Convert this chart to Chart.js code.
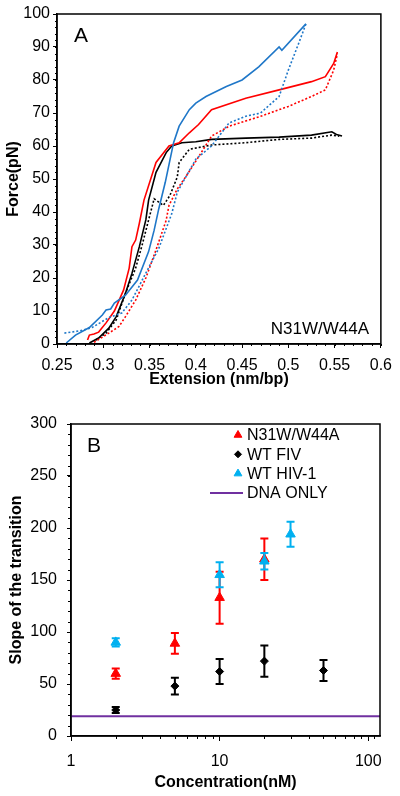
<!DOCTYPE html>
<html>
<head>
<meta charset="utf-8">
<script src="https://cdn.jsdelivr.net/npm/chart.js@4.4.1/dist/chart.umd.min.js"></script>
<style>
  html, body { margin: 0; padding: 0; background: #fff; }
  .panel { position: absolute; left: 0; width: 400px; }
  #panelA { top: 0; height: 400px; }
  #panelB { top: 400px; height: 396px; }
</style>
</head>
<body>
<div class="panel" id="panelA"><canvas id="forceChart" width="400" height="400"></canvas></div>
<div class="panel" id="panelB"><canvas id="slopeChart" width="400" height="396"></canvas></div>
<script>
// Panel A: force-extension curves, [extension nm/bp, force pN]
const blueStretch = [[0.260,0.3],[0.270,2.7],[0.285,5],[0.299,8.8],[0.303,10.3],[0.308,10.6],[0.312,12.4],[0.324,14.8],[0.337,19.4],[0.349,28],[0.355,34.5],[0.360,41],[0.367,49],[0.373,57],[0.376,61],[0.382,66],[0.393,71],[0.400,73],[0.411,75],[0.433,78],[0.450,80],[0.468,84],[0.490,90],[0.493,89],[0.519,97]];
const blueRelease = [[0.258,3.3],[0.275,4],[0.288,5],[0.306,8],[0.320,9.4],[0.331,13.3],[0.346,21.5],[0.360,29],[0.374,39.5],[0.380,46],[0.400,56],[0.417,60],[0.436,67],[0.454,69],[0.470,70],[0.490,75],[0.500,83],[0.511,91],[0.519,97]];
const redStretch = [[0.283,1.2],[0.285,2.7],[0.290,3],[0.295,3.6],[0.303,6.4],[0.312,10],[0.322,16.4],[0.328,23],[0.331,29.5],[0.335,31.5],[0.339,36.6],[0.344,43.6],[0.357,55],[0.371,60],[0.382,61],[0.393,64],[0.403,66.5],[0.417,71],[0.454,74.5],[0.490,77],[0.525,79.5],[0.540,81],[0.549,85],[0.553,88.5]];
const redRelease = [[0.290,0.5],[0.306,3.3],[0.317,5.3],[0.324,8.3],[0.335,13.3],[0.346,20],[0.357,28.5],[0.368,37.5],[0.371,42],[0.380,47],[0.389,50.6],[0.403,56.7],[0.417,63],[0.436,66],[0.470,69],[0.500,72],[0.525,75],[0.540,77],[0.549,83],[0.553,88]];
const blackStretch = [[0.285,0.3],[0.295,1.8],[0.306,4.8],[0.314,8.3],[0.324,15.4],[0.331,21.4],[0.339,29.5],[0.346,37.6],[0.349,43.6],[0.357,52],[0.368,58],[0.374,60],[0.385,61],[0.400,61.3],[0.417,62],[0.454,62.4],[0.490,62.7],[0.525,63.3],[0.547,64.3],[0.552,63.5],[0.558,63]];
const blackRelease = [[0.292,1.2],[0.303,3.3],[0.314,7.3],[0.324,15.4],[0.335,23],[0.342,30],[0.349,37.6],[0.355,44],[0.360,43],[0.365,42],[0.372,45],[0.380,50.6],[0.382,55],[0.393,59],[0.417,60.3],[0.454,61],[0.490,62],[0.525,62.4],[0.547,63.3],[0.555,63]];

// Panel B: slope of the transition vs concentration (nM)
const concN31W = [2, 5, 10, 20];
const slopeN31W = [60, 89, 133, 170];
const errN31W = [5, 10, 25, 20];
const concFIV = [2, 5, 10, 20, 50];
const slopeFIV = [25, 48, 62, 72, 63];
const errFIV = [3, 8, 12, 15, 10];
const concHIV = [2, 10, 20, 30];
const slopeHIV = [90, 155, 168, 194];
const errHIV = [4, 12, 8, 12];
const dnaOnlySlope = 19;

const FONT = "'Liberation Sans', Arial, sans-serif";
Chart.defaults.font.family = FONT;
Chart.defaults.font.size = 16;
Chart.defaults.color = '#000';

function toPoints(pairs) {
  return pairs.map(p => ({ x: p[0], y: p[1] }));
}

function zipPoints(xs, ys) {
  return xs.map((x, i) => ({ x: x, y: ys[i] }));
}

// short outside ticks between the labelled ones
const minorTicks = {
  id: 'minorTicks',
  afterDraw(chart, args, opts) {
    const ctx = chart.ctx, area = chart.chartArea;
    ctx.save();
    ctx.strokeStyle = '#000';
    ctx.lineWidth = 1;
    (opts.x || []).forEach(v => {
      const px = Math.round(chart.scales.x.getPixelForValue(v)) + 0.5;
      ctx.beginPath();
      ctx.moveTo(px, area.bottom);
      ctx.lineTo(px, area.bottom + opts.len);
      ctx.stroke();
    });
    (opts.y || []).forEach(v => {
      const py = Math.round(chart.scales.y.getPixelForValue(v)) + 0.5;
      ctx.beginPath();
      ctx.moveTo(area.left, py);
      ctx.lineTo(area.left - opts.len, py);
      ctx.stroke();
    });
    ctx.restore();
  }
};

const frameBox = {
  id: 'frameBox',
  afterDraw(chart) {
    const ctx = chart.ctx, a = chart.chartArea;
    ctx.save();
    ctx.strokeStyle = '#000';
    ctx.lineWidth = 1.5;
    ctx.strokeRect(a.left, a.top, a.right - a.left, a.bottom - a.top);
    ctx.restore();
  }
};

const panelText = {
  id: 'panelText',
  afterDraw(chart, args, opts) {
    const ctx = chart.ctx;
    ctx.save();
    (opts.items || []).forEach(t => {
      ctx.font = t.font;
      ctx.fillStyle = '#000';
      ctx.textAlign = t.align || 'left';
      ctx.textBaseline = 'alphabetic';
      ctx.fillText(t.text, t.x, t.y);
    });
    ctx.restore();
  }
};

const errorBars = {
  id: 'errorBars',
  beforeDatasetDraw(chart, args) {
    const ds = chart.data.datasets[args.index];
    if (!ds.errors) return;
    const ctx = chart.ctx, xs = chart.scales.x, ys = chart.scales.y;
    ctx.save();
    ctx.strokeStyle = ds.borderColor;
    ctx.lineWidth = 2;
    ds.data.forEach((p, i) => {
      const x = xs.getPixelForValue(p.x);
      const top = ys.getPixelForValue(p.y + ds.errors[i]);
      const bot = ys.getPixelForValue(p.y - ds.errors[i]);
      ctx.beginPath();
      ctx.moveTo(x, top); ctx.lineTo(x, bot);
      ctx.moveTo(x - 4, top); ctx.lineTo(x + 4, top);
      ctx.moveTo(x - 4, bot); ctx.lineTo(x + 4, bot);
      ctx.stroke();
    });
    ctx.restore();
  }
};

const insideLegend = {
  id: 'insideLegend',
  afterDraw(chart, args, opts) {
    const ctx = chart.ctx;
    ctx.save();
    ctx.font = '16px ' + FONT;
    ctx.textBaseline = 'middle';
    ctx.textAlign = 'left';
    chart.data.datasets.forEach((ds, i) => {
      const y = opts.top + i * opts.gap;
      ctx.fillStyle = ds.backgroundColor;
      ctx.strokeStyle = ds.borderColor;
      if (ds.showLine) {
        ctx.lineWidth = 2;
        ctx.beginPath();
        ctx.moveTo(opts.textX - 37, y);
        ctx.lineTo(opts.textX - 4, y);
        ctx.stroke();
      } else {
        Chart.helpers.drawPoint(ctx, {
          pointStyle: ds.pointStyle, radius: ds.pointStyle === 'triangle' ? 4.5 : 3.5,
          rotation: 0, borderWidth: 1
        }, opts.textX - 9, y);
      }
      ctx.fillStyle = '#000';
      ctx.fillText(ds.label, opts.textX, y + 1);
    });
    ctx.restore();
  }
};

function range(from, to, step) {
  const out = [];
  for (let v = from; v <= to + 1e-9; v += step) out.push(parseFloat(v.toFixed(4)));
  return out;
}

const axisBorder = { display: true, color: '#000', width: 1.5 };

new Chart(document.getElementById('forceChart'), {
  type: 'line',
  data: {
    datasets: [
      { label: 'blue stretch', data: toPoints(blueStretch), borderColor: '#1f77c8', borderWidth: 1.6 },
      { label: 'blue release', data: toPoints(blueRelease), borderColor: '#1f77c8', borderWidth: 1.6, borderDash: [2, 2] },
      { label: 'red stretch', data: toPoints(redStretch), borderColor: '#ff0000', borderWidth: 1.6 },
      { label: 'red release', data: toPoints(redRelease), borderColor: '#ff0000', borderWidth: 1.6, borderDash: [2, 2] },
      { label: 'black stretch', data: toPoints(blackStretch), borderColor: '#000000', borderWidth: 1.6 },
      { label: 'black release', data: toPoints(blackRelease), borderColor: '#000000', borderWidth: 1.6, borderDash: [2, 2] }
    ]
  },
  options: {
    responsive: false,
    animation: false,
    devicePixelRatio: 1,
    layout: { padding: { left: 0, right: 18, top: 14, bottom: 0 } },
    elements: { point: { radius: 0 }, line: { tension: 0 } },
    plugins: {
      legend: { display: false },
      tooltip: { enabled: false },
      minorTicks: { x: range(0.25, 0.6, 0.01), y: range(0, 100, 2), len: 2 },
      panelText: {
        items: [
          { text: 'A', x: 74, y: 42, font: '21px ' + FONT },
          { text: 'N31W/W44A', x: 369, y: 334, align: 'right', font: '17px ' + FONT }
        ]
      }
    },
    scales: {
      x: {
        type: 'linear', min: 0.25, max: 0.6,
        afterFit: s => { s.height = 56; },
        border: axisBorder,
        grid: { drawOnChartArea: false, tickLength: 4, color: '#000' },
        ticks: { stepSize: 0.05, padding: 8, callback: v => String(parseFloat(v.toFixed(2))) },
        title: { display: true, text: 'Extension (nm/bp)', font: { size: 16, weight: 'bold' }, padding: { top: 0, bottom: 11 } }
      },
      y: {
        min: 0, max: 100,
        afterFit: s => { s.width = 57; },
        border: axisBorder,
        grid: { drawOnChartArea: false, tickLength: 4, color: '#000' },
        ticks: { stepSize: 10, padding: 3 },
        title: { display: true, text: 'Force(pN)', font: { size: 16, weight: 'bold' }, padding: { top: 4, bottom: 0 } }
      }
    }
  },
  plugins: [minorTicks, frameBox, panelText]
});

const minorLog = [2, 3, 4, 5, 6, 7, 8, 9, 20, 30, 40, 50, 60, 70, 80, 90, 110];

new Chart(document.getElementById('slopeChart'), {
  type: 'scatter',
  data: {
    datasets: [
      { label: 'N31W/W44A', data: zipPoints(concN31W, slopeN31W), errors: errN31W, pointStyle: 'triangle', pointRadius: 5.5, backgroundColor: '#ff0000', borderColor: '#ff0000', order: 2 },
      { label: 'WT FIV', data: zipPoints(concFIV, slopeFIV), errors: errFIV, pointStyle: 'rectRot', pointRadius: 4, backgroundColor: '#000000', borderColor: '#000000', order: 1 },
      { label: 'WT HIV-1', data: zipPoints(concHIV, slopeHIV), errors: errHIV, pointStyle: 'triangle', pointRadius: 5.5, backgroundColor: '#00b0f0', borderColor: '#00b0f0', order: 0 },
      { label: 'DNA ONLY', data: [{ x: 1, y: dnaOnlySlope }, { x: 120, y: dnaOnlySlope }], showLine: true, pointRadius: 0, borderWidth: 2, backgroundColor: '#7030a0', borderColor: '#7030a0', order: 3 }
    ]
  },
  options: {
    responsive: false,
    animation: false,
    devicePixelRatio: 1,
    layout: { padding: { left: 0, right: 20, top: 24, bottom: 0 } },
    plugins: {
      legend: { display: false },
      tooltip: { enabled: false },
      minorTicks: { x: minorLog, y: range(0, 300, 10), len: 3 },
      insideLegend: { textX: 247, top: 35, gap: 19.3 },
      panelText: { items: [{ text: 'B', x: 87, y: 52, font: '21px ' + FONT }] }
    },
    scales: {
      x: {
        type: 'logarithmic', min: 1, max: 120,
        afterFit: s => { s.height = 60; },
        afterBuildTicks: s => { s.ticks = [1, 10, 100].map(v => ({ value: v })); },
        border: axisBorder,
        grid: { drawOnChartArea: false, tickLength: 5, color: '#000' },
        ticks: { padding: 11, callback: v => String(v) },
        title: { display: true, text: 'Concentration(nM)', font: { size: 16, weight: 'bold' }, padding: { top: 0, bottom: 4 } }
      },
      y: {
        min: 0, max: 300,
        afterFit: s => { s.width = 71; },
        border: axisBorder,
        grid: { drawOnChartArea: false, tickLength: 4, color: '#000' },
        ticks: { stepSize: 50, padding: 10 },
        title: { display: true, text: 'Slope of the transition', font: { size: 16, weight: 'bold' }, padding: { top: 7, bottom: 0 } }
      }
    }
  },
  plugins: [minorTicks, frameBox, errorBars, insideLegend, panelText]
});
</script>
</body>
</html>
